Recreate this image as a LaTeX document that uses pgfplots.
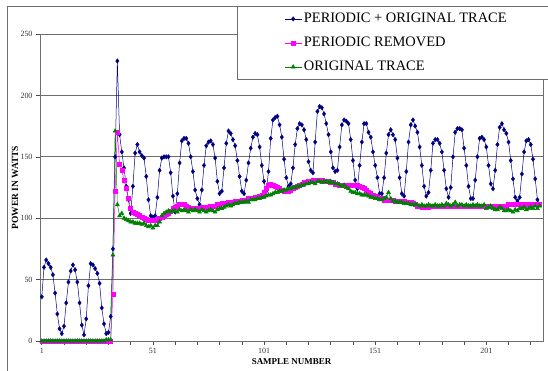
\documentclass[border=0pt]{standalone}
\usepackage{pgfplots}
\pgfplotsset{compat=1.18}
\usepackage{pgfplotstable}
\usepackage{fontspec}
\setmainfont{Liberation Serif}
\definecolor{navy}{RGB}{0,0,128}
\definecolor{mag}{RGB}{255,0,255}
\definecolor{dgreen}{RGB}{0,128,0}
\definecolor{frame}{RGB}{110,110,110}

\pgfplotstableread{
s b p g
1 36 0 0
2 60 0 0
3 66 0 0
4 63 0 0
5 60 0 0
6 54 0 0
7 39 0 0
8 22 0 0
9 10 0 0
10 6 0 0
11 12 0 0
12 31 0 0
13 48 0 0
14 57 0 0
15 62 0 0
16 58 0 0
17 48 0 0
18 31 0 0
19 13 0 0
20 5 0 0
21 18 0 0
22 45 0 0
23 63 0 0
24 62 0 0
25 59 0 0
26 55 0 0
27 47 0 0
28 27 0 0
29 14 0 0
30 6 0 1
31 7 0 1
32 20 0 1
33 75 38 70
34 150 122 171
35 228 170 111
36 168 144 102
37 154 139 104
38 141 131 100
39 126 124 99
40 115 116 98
41 104 108 97
42 126 105 97
43 153 104 96
44 160 103 96
45 154 102 96
46 151 101 95
47 149 100 96
48 134 99 94
49 115 98 93
50 102 98 94
51 101 98 92
52 102 98 94
53 117 99 94
54 139 100 97
55 149 101 102
56 150 102 104
57 150 103 105
58 150 104 106
59 137 106 105
60 118 108 106
61 105 109 106
62 120 110 105
63 145 111 107
64 163 111 106
65 165 111 107
66 165 110 106
67 161 109 105
68 150 108 107
69 138 108 106
70 123 108 107
71 116 108 106
72 111 108 105
73 123 109 107
74 143 109 106
75 159 109 105
76 162 109 106
77 163 110 107
78 160 110 106
79 149 110 105
80 130 111 107
81 120 111 108
82 122 112 108
83 141 112 109
84 161 112 110
85 171 113 111
86 169 113 110
87 164 113 111
88 159 114 112
89 147 114 112
90 134 114 113
91 122 115 113
92 120 115 113
93 131 115 114
94 145 116 113
95 157 116 115
96 166 116 115
97 169 117 115
98 168 117 116
99 158 118 116
100 143 119 117
101 130 121 117
102 122 124 118
103 138 127 119
104 165 128 119
105 180 127 120
106 182 126 121
107 183 125 121
108 176 124 122
109 166 123 122
110 148 122 123
111 133 122 123
112 126 122 124
113 128 123 124
114 141 124 125
115 160 125 125
116 173 126 126
117 177 127 126
118 176 128 127
119 172 129 127
120 164 129 128
121 146 130 128
122 139 130 129
123 137 131 129
124 162 131 128
125 187 131 130
126 191 131 130
127 190 131 129
128 185 130 130
129 177 130 130
130 168 130 129
131 154 129 130
132 141 129 129
133 138 128 128
134 139 128 128
135 158 127 127
136 176 127 126
137 180 127 127
138 179 127 125
139 177 127 124
140 164 127 122
141 147 127 121
142 131 127 121
143 124 127 120
144 143 126 120
145 162 125 119
146 177 124 119
147 177 123 119
148 170 121 118
149 166 120 117
150 154 119 117
151 143 118 116
152 133 117 116
153 120 116 115
154 120 116 115
155 133 115 116
156 153 115 117
157 168 115 121
158 172 115 116
159 168 115 114
160 164 114 114
161 149 114 113
162 133 114 113
163 120 114 113
164 118 114 112
165 138 113 112
166 162 113 112
167 176 113 111
168 180 112 111
169 175 111 111
170 170 110 111
171 158 110 110
172 143 109 111
173 126 109 110
174 118 109 110
175 121 109 111
176 139 110 110
177 161 110 110
178 164 110 111
179 164 110 110
180 161 110 110
181 154 110 111
182 139 110 110
183 124 110 112
184 117 110 111
185 125 110 110
186 150 110 111
187 170 110 113
188 173 110 110
189 173 110 111
190 172 110 111
191 157 110 110
192 143 110 111
193 126 110 110
194 116 110 110
195 116 110 111
196 131 110 110
197 150 110 111
198 165 110 110
199 166 110 110
200 164 110 111
201 158 110 108
202 143 110 109
203 128 110 110
204 124 110 108
205 139 110 107
206 160 110 107
207 174 110 109
208 177 110 108
209 172 110 106
210 169 110 106
211 162 111 107
212 147 111 106
213 132 111 105
214 117 111 107
215 114 111 106
216 117 111 108
217 136 111 108
218 154 111 109
219 163 111 107
220 164 111 108
221 160 111 109
222 148 111 108
223 132 111 110
224 115 111 108
225 111 111 110
}\data

\begin{document}
\begin{tikzpicture}
\useasboundingbox (0,0) rectangle (548bp,-371bp);
\draw[frame, line width=0.8bp] (7bp,-372bp) -- (7bp,-6bp) -- (560bp,-6bp);
\begin{axis}[
  at={(40bp,-341bp)}, anchor=south west,
  scale only axis, width=503bp, height=307bp,
  xmin=0.2, xmax=226.5, ymin=0, ymax=250,
  ytick={0,50,...,250},
  xtick={1,11,...,221},
  xticklabels={1,,,,,51,,,,,101,,,,,151,,,,,201,,,},
  ymajorgrids,
  grid style={frame, line width=0.8bp},
  axis line style={frame, line width=0.8bp},
  tick style={black!70, line width=0.6bp},
  tick align=outside, tick pos=left, major tick length=4bp,
  tick label style={font=\fontsize{8}{9}\selectfont, text=black!80},
  /pgf/number format/assume math mode=true,
  xlabel={SAMPLE NUMBER}, ylabel={POWER IN WATTS},
  every axis x label/.style={at={(axis description cs:0.5,-0.068)}, anchor=center, font=\fontsize{9}{10}\selectfont\bfseries},
  every axis y label/.style={at={(axis description cs:-0.0497,0.5)}, rotate=90, anchor=center, font=\fontsize{9.5}{10}\selectfont\bfseries},
  legend style={at={(axis description cs:0.3917,1.0912)}, anchor=north west,
    draw=frame, line width=0.8bp, fill=white,
    inner xsep=47bp, inner ysep=4bp, row sep=7bp,
    font=\fontsize{14.5}{16}\selectfont,
    nodes={inner sep=2bp, text height=10bp, text depth=3bp}},
  legend cell align=left,
  clip=false,
]
\addplot[navy, line width=0.5bp, mark=diamond*, mark size=2.3bp, mark options={line width=0.3bp}] table[x=s, y=b] {\data};
\addlegendentry{PERIODIC + ORIGINAL TRACE\hspace*{14bp}}
\addplot[mag, line width=0.5bp, mark=square*, mark size=2bp] table[x=s, y=p] {\data};
\addlegendentry{PERIODIC REMOVED}
\addplot[dgreen, line width=0.5bp, mark=triangle*, mark size=2.3bp] table[x=s, y=g] {\data};
\addlegendentry{ORIGINAL TRACE}
\end{axis}
\end{tikzpicture}
\end{document}
